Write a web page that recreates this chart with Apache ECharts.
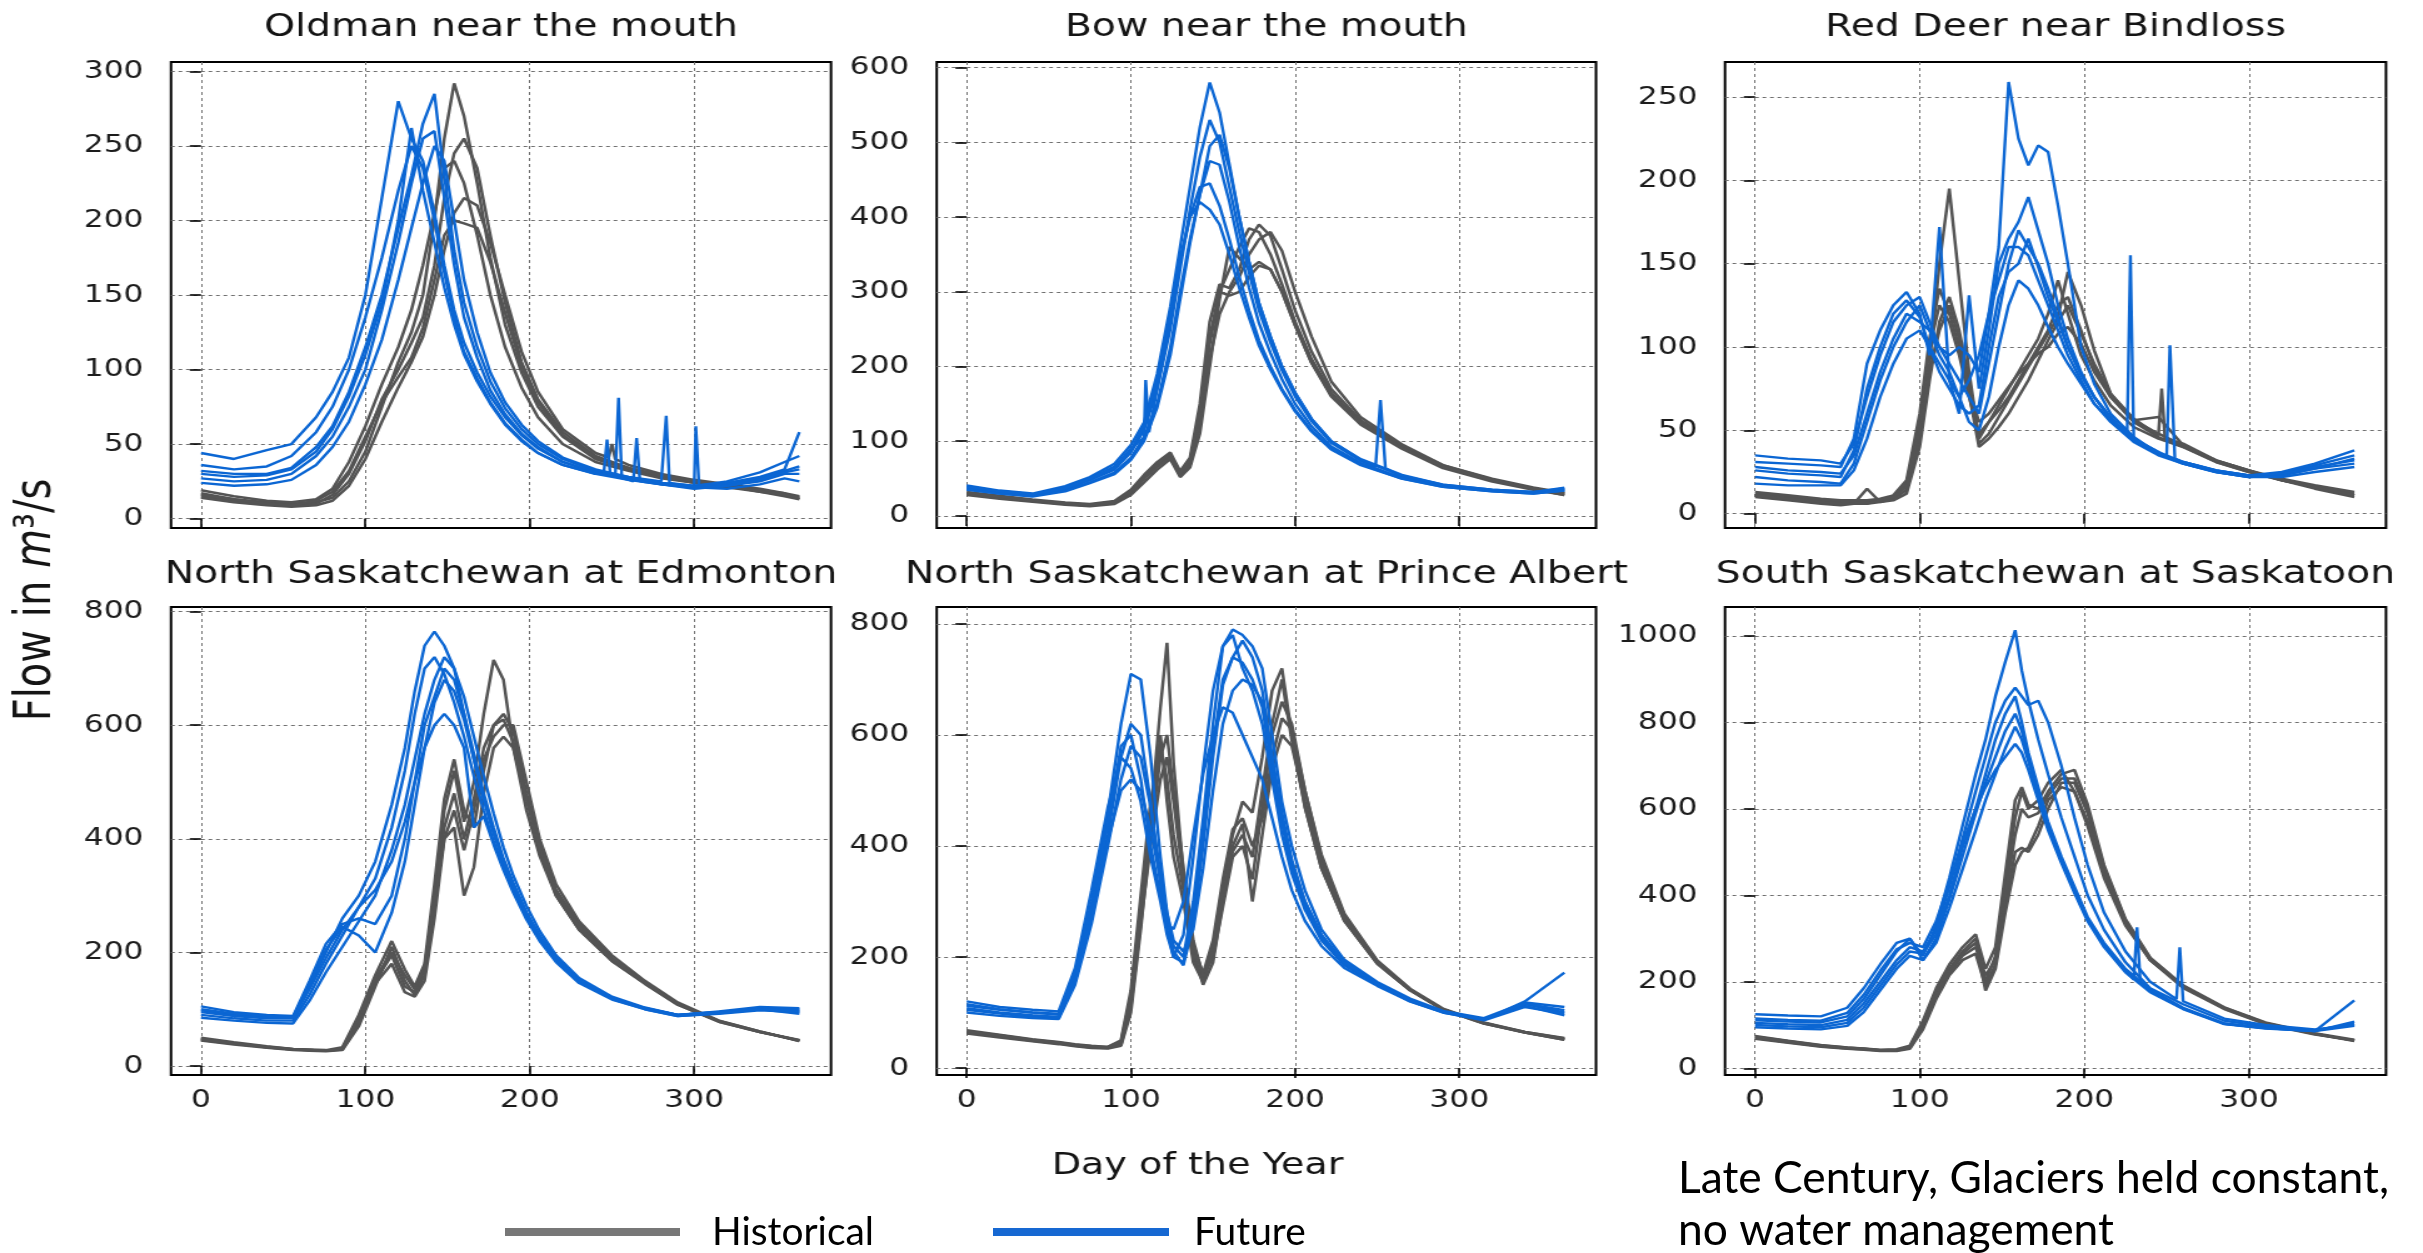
<!DOCTYPE html>
<html>
<head>
<meta charset="utf-8">
<script src="https://cdn.jsdelivr.net/npm/echarts@6/dist/echarts.min.js"></script>
<style>
html,body{margin:0;padding:0;background:#fff;overflow:hidden;}
#wrap{position:absolute;left:0;top:0;width:2423px;height:1253px;background:#fff;}
#plots{position:absolute;left:0;top:0;width:1938px;height:1253px;transform-origin:0 0;transform:scaleX(1.2502580);}
#notes{position:absolute;left:0;top:0;width:2423px;height:1253px;}
</style>
</head>
<body>
<div id="wrap"><div id="plots"></div><div id="notes"></div></div>
<script>
// ---------------- DATA ----------------
const xTicks = [0, 100, 200, 300];
const panelTitles = ['Oldman near the mouth', 'Bow near the mouth', 'Red Deer near Bindloss',
  'North Saskatchewan at Edmonton', 'North Saskatchewan at Prince Albert', 'South Saskatchewan at Saskatoon'];
const legendNames = ['Historical', 'Future'];
const xAxisTitle = 'Day of the Year';
const noteLines = ['Late Century, Glaciers held constant,', 'no water management'];

// Oldman near the mouth
const oldmanTicks = [0, 50, 100, 150, 200, 250, 300];
const oldmanDays = [0,20,40,55,70,80,90,100,110,120,128,135,142,148,154,160,168,176,185,195,205,220,240,260,280,300,320,340,355,364];
const oldmanHist = [
  [17,13,11,10,11,14,25,45,75,105,125,150,200,255,292,270,225,175,130,98,75,55,40,33,28,24,21,18,15,13],
  [15,12,10,9,10,16,30,52,80,100,118,135,170,215,245,255,235,190,145,105,80,58,42,34,29,25,22,19,16,14],
  [19,15,12,11,13,20,38,62,90,115,140,170,205,235,240,225,190,150,115,88,68,50,38,32,27,24,21,19,17,15],
  [14,11,9,8,9,12,22,40,65,88,105,122,150,180,205,215,210,185,150,112,85,60,44,36,30,26,23,20,17,13],
  [16,13,10,9,12,18,32,55,78,95,108,128,160,190,200,198,195,172,138,102,78,56,41,34,29,25,22,18,16,14]
];
const oldmanFut = [
  [44,40,46,50,68,85,108,150,215,280,255,240,205,170,140,118,98,82,68,56,47,38,31,27,24,22,25,31,38,42],
  [32,30,30,34,48,62,85,115,150,195,230,265,285,230,180,145,115,92,74,60,50,40,32,28,25,22,24,28,33,58],
  [27,25,26,30,42,55,75,100,140,185,225,255,260,215,170,135,108,86,70,57,48,38,31,27,23,21,22,25,30,30],
  [36,33,35,42,58,75,100,135,175,220,250,235,200,165,135,112,94,78,64,53,44,36,30,26,23,21,23,27,32,35],
  [24,22,23,26,36,48,65,90,120,160,195,225,250,240,200,160,125,98,78,63,52,41,33,28,24,21,20,23,27,25],
  [30,28,29,33,45,60,82,110,145,200,262,220,185,155,130,110,92,77,63,52,44,36,30,26,23,20,22,26,31,33]
];
const oldmanHistSpikes = {3: [[248,41],[250,50],[252,40]]};
const oldmanFutSpikes = {0: [[252,28],[254,81],[256,27]], 1: [[281,25],[283,69],[285,24]],
  2: [[298,21],[301,62],[303,21]], 3: [[245,30],[247,53],[249,29]], 5: [[263,25],[265,54],[267,25]]};

// Bow near the mouth
const bowTicks = [0, 100, 200, 300, 400, 500, 600];
const bowDays = [0,20,40,60,75,90,100,108,116,124,130,136,142,148,154,160,166,172,178,185,192,200,210,222,240,265,290,320,345,364];
const bowHist = [
  [30,25,20,16,14,17,30,50,68,80,55,70,130,230,300,330,360,385,380,350,310,260,210,165,125,92,66,48,37,30],
  [28,23,19,15,13,16,28,45,62,76,52,65,110,200,290,360,345,330,340,330,300,255,205,160,122,90,64,46,35,28],
  [32,27,22,18,16,20,35,55,72,85,60,78,150,260,310,305,330,370,390,375,330,275,220,170,128,94,68,50,38,31],
  [29,24,20,16,14,18,32,52,70,82,58,68,120,210,270,300,320,350,370,380,355,300,240,180,132,96,68,49,36,28],
  [31,26,21,17,15,19,33,50,66,78,56,74,140,240,300,295,300,320,335,330,300,255,205,162,124,91,66,48,37,30]
];
const bowFut = [
  [41,34,30,40,52,70,95,125,190,280,360,440,520,580,540,470,400,340,285,240,200,165,130,100,75,54,42,35,32,38],
  [38,32,28,36,48,62,85,115,170,250,330,410,480,530,500,440,380,325,275,232,195,160,127,98,74,53,41,34,31,35],
  [36,30,27,34,45,58,78,105,150,225,300,370,430,475,470,420,360,305,258,218,183,150,120,93,71,51,40,34,31,36],
  [40,33,29,38,50,66,90,105,170,260,340,400,440,445,415,370,320,275,235,200,170,142,115,90,69,50,39,33,30,34],
  [35,30,26,33,44,56,75,100,145,215,290,365,430,495,510,465,400,340,285,240,200,165,130,100,76,55,42,35,32,37],
  [39,33,29,37,50,64,88,120,180,270,345,400,420,410,390,350,305,265,228,196,168,140,113,89,68,50,39,33,30,34]
];
const bowHistSpikes = {};
const bowFutSpikes = {1: [[249,66],[252,155],[255,64]], 3: [[109,182],[111,112]]};

// Red Deer near Bindloss
const redDeerTicks = [0, 50, 100, 150, 200, 250];
const redDeerDays = [0,20,40,52,60,68,76,84,92,100,106,112,118,124,130,136,142,148,154,160,166,172,178,184,190,198,206,216,230,245,260,280,300,320,340,364];
const redDeerHist = [
  [11,9,7,6,6,6,7,9,14,45,90,150,195,140,85,45,55,65,75,85,95,105,120,140,120,95,80,65,52,45,40,31,25,20,16,11],
  [12,10,8,7,7,7,8,10,18,55,100,125,115,95,70,48,55,62,70,80,90,100,110,125,130,110,88,70,55,46,40,31,25,20,16,12],
  [10,8,6,5,6,15,7,8,12,40,80,115,130,110,80,42,48,58,68,78,88,98,108,118,145,125,98,72,56,58,41,32,26,20,15,10],
  [13,11,9,8,8,8,9,11,20,60,105,135,120,100,75,55,60,68,76,84,90,96,100,108,112,102,85,70,56,48,41,32,26,21,17,13],
  [11,9,7,6,6,6,8,10,16,50,85,110,125,105,72,40,45,52,60,70,80,92,104,115,125,108,90,72,57,47,42,32,26,20,16,11]
];
const redDeerFut = [
  [28,26,25,24,35,60,85,105,120,115,110,100,95,100,95,85,120,160,259,225,209,221,217,185,150,100,78,60,46,36,31,26,23,23,27,33],
  [31,30,29,28,45,90,110,125,133,120,95,172,80,60,131,75,110,150,165,175,190,170,150,125,105,85,70,57,44,36,30,25,22,24,29,35],
  [22,20,19,18,30,55,80,100,115,125,110,95,85,70,80,95,120,140,160,160,155,140,125,110,95,80,66,55,43,35,30,25,22,23,27,30],
  [35,33,32,30,42,70,95,115,125,130,115,100,90,80,70,60,90,120,150,170,160,150,135,118,100,84,70,58,45,37,31,26,23,25,30,38],
  [18,17,17,17,26,45,70,90,105,110,100,90,80,70,55,50,70,100,125,140,135,125,112,100,90,78,66,56,44,36,30,25,22,22,25,28],
  [26,24,23,22,38,75,100,120,128,118,100,85,75,65,60,65,100,130,145,150,165,148,130,115,100,83,70,57,45,37,31,26,23,24,28,32]
];
const redDeerHistSpikes = {4: [[247,75],[249,45]]};
const redDeerFutSpikes = {3: [[226,48],[228,155]], 5: [[250,34],[252,101],[255,33]]};

// North Saskatchewan at Edmonton
const edmontonTicks = [0, 200, 400, 600, 800];
const edmontonDays = [0,20,40,56,66,76,86,96,106,116,124,130,136,142,148,154,160,166,172,178,184,190,198,206,216,230,250,270,290,315,340,364];
const edmontonHist = [
  [48,40,33,29,28,27,30,80,150,195,140,130,170,300,450,520,430,500,620,715,680,560,450,370,300,240,185,145,108,78,60,45],
  [45,38,32,28,27,26,28,70,140,210,150,125,160,280,420,480,400,470,560,600,620,590,480,390,310,250,190,148,110,80,61,44],
  [50,42,35,30,29,28,33,90,160,220,170,140,180,320,470,540,450,420,520,600,610,570,470,380,300,240,185,145,108,78,60,46],
  [46,39,33,29,28,27,29,75,145,180,130,122,150,260,400,450,380,450,540,580,600,600,500,400,320,255,195,150,112,80,61,44],
  [47,40,34,30,28,27,31,85,155,200,160,135,175,290,400,420,300,350,480,560,580,560,470,385,305,245,188,146,109,79,60,45]
];
const edmontonFut = [
  [98,90,86,86,140,200,260,300,360,460,560,660,740,765,740,700,620,540,470,410,360,320,270,230,190,150,120,102,90,95,102,100],
  [90,84,80,80,125,180,230,280,330,420,520,620,700,720,690,640,580,510,450,395,350,310,262,224,186,148,118,100,88,92,98,95],
  [105,95,90,88,150,215,250,260,250,300,400,500,600,650,700,680,620,550,480,420,365,322,270,228,188,150,120,102,90,96,104,102],
  [85,80,76,75,115,165,210,255,300,380,460,540,620,680,720,700,650,580,510,445,385,335,282,238,195,155,122,103,90,94,100,92],
  [100,92,88,86,145,205,245,230,200,270,360,460,560,640,680,660,610,540,470,410,360,318,268,228,188,150,120,102,90,95,102,98],
  [95,88,84,84,135,190,240,280,310,360,430,500,560,600,620,600,560,420,440,390,345,305,258,220,183,146,117,100,88,93,100,96]
];
const edmontonHistSpikes = {};
const edmontonFutSpikes = {};

// North Saskatchewan at Prince Albert
const princeAlbertTicks = [0, 200, 400, 600, 800];
const princeAlbertDays = [0,20,40,56,66,76,86,94,100,106,112,118,122,126,132,138,144,150,156,162,168,174,180,186,192,198,206,216,230,250,270,290,315,340,364];
const princeAlbertHist = [
  [65,58,50,45,41,38,37,45,120,280,450,650,766,550,350,200,160,220,330,420,480,460,560,680,720,600,470,360,265,188,140,105,80,64,52],
  [62,55,48,43,39,36,35,40,100,250,420,560,600,500,360,230,165,200,290,380,400,340,470,600,660,620,500,380,275,192,142,106,81,65,53],
  [68,60,52,47,43,40,38,50,140,310,480,580,520,420,320,210,150,190,300,390,420,380,500,620,700,590,470,360,265,188,140,105,80,64,51],
  [64,57,49,44,40,37,36,42,110,260,400,520,560,480,340,220,170,230,340,430,450,400,450,560,630,610,500,385,278,194,143,107,82,65,54],
  [66,59,51,46,42,39,38,48,130,290,440,600,480,380,300,190,155,210,310,400,440,300,420,540,600,580,480,370,270,190,141,106,81,64,51]
];
const princeAlbertFut = [
  [112,105,100,98,170,300,460,620,710,700,560,380,280,220,200,300,450,620,760,790,780,760,720,600,480,400,320,250,195,155,125,103,90,118,110],
  [105,98,92,90,160,280,420,560,620,600,480,330,250,200,190,280,420,580,700,740,770,740,680,560,450,370,300,240,190,152,122,101,88,115,100],
  [120,110,105,102,180,320,470,560,540,480,380,300,240,200,240,380,540,680,760,780,720,680,620,520,420,350,285,230,185,150,120,100,87,120,172],
  [100,94,90,88,150,260,400,520,580,560,470,350,270,210,185,260,400,560,690,740,730,700,650,540,440,360,292,235,188,151,121,101,87,112,95],
  [115,106,100,96,165,290,440,580,600,520,400,310,260,250,300,420,530,600,650,640,600,560,520,450,380,320,265,220,180,148,120,100,86,110,98],
  [108,100,95,92,155,270,410,500,520,500,430,340,280,230,210,250,360,500,620,680,700,690,660,560,460,375,300,240,190,152,122,101,88,116,104]
];
const princeAlbertHistSpikes = {};
const princeAlbertFutSpikes = {};

// South Saskatchewan at Saskatoon
const saskatoonTicks = [0, 200, 400, 600, 800, 1000];
const saskatoonDays = [0,20,40,56,66,76,86,94,102,110,118,126,134,140,146,152,158,162,166,172,178,186,194,202,212,225,240,260,285,310,340,364];
const saskatoonHist = [
  [72,62,52,47,45,42,42,48,100,175,230,270,300,200,260,420,580,640,600,620,660,690,640,560,440,330,250,190,140,105,80,64],
  [68,59,50,45,43,40,40,45,90,160,215,250,265,190,240,380,500,510,500,540,600,660,660,590,460,340,252,188,138,103,79,63],
  [75,64,54,48,46,43,44,52,110,185,240,280,310,230,280,450,620,650,610,600,640,680,690,610,470,345,256,192,141,106,81,66],
  [70,60,51,46,44,41,41,47,95,165,220,260,280,215,250,400,540,600,580,590,630,670,670,600,465,342,254,190,139,104,80,64],
  [73,63,53,48,45,42,43,50,105,180,225,265,290,180,230,360,470,500,510,560,620,650,640,570,450,335,250,186,137,102,78,65]
];
const saskatoonFut = [
  [111,108,106,120,160,215,270,300,260,330,440,560,680,760,860,940,1013,920,850,760,680,580,490,400,320,245,185,148,110,97,88,103],
  [105,102,100,112,150,200,250,280,270,320,420,530,640,720,800,850,880,860,840,850,800,700,580,470,360,270,200,155,115,100,90,100],
  [125,122,120,140,185,240,290,300,250,300,390,490,590,660,720,780,820,780,720,640,560,480,410,345,285,225,178,138,103,93,86,157],
  [95,92,90,98,130,180,230,260,250,290,370,460,550,620,680,740,790,760,710,630,560,480,410,345,285,225,178,138,103,93,86,98],
  [100,97,95,105,140,190,240,270,265,310,400,510,600,680,760,820,860,800,730,650,570,490,420,350,290,230,182,140,104,94,87,101],
  [115,112,110,128,170,225,275,290,280,340,430,520,600,650,690,720,750,730,690,620,550,475,405,340,280,222,176,137,102,92,86,108]
];
const saskatoonHistSpikes = {};
const saskatoonFutSpikes = {1: [[256,160],[258,280]], 3: [[230,205],[232,326],[234,200]]};

// ---------------- CHART ----------------
const SX = 2423 / 1938;
const u = x => x / SX;
const GRAY = '#545454', BLUE = '#0b66d3';
const DV = '"DejaVu Sans", sans-serif';

const panels = [
  {days: oldmanDays, hist: oldmanHist, fut: oldmanFut, hs: oldmanHistSpikes, fs: oldmanFutSpikes, ticks: oldmanTicks, step: 50, yr: [-6.3, 306.3]},
  {days: bowDays, hist: bowHist, fut: bowFut, hs: bowHistSpikes, fs: bowFutSpikes, ticks: bowTicks, step: 100, yr: [-16.1, 607.5]},
  {days: redDeerDays, hist: redDeerHist, fut: redDeerFut, hs: redDeerHistSpikes, fs: redDeerFutSpikes, ticks: redDeerTicks, step: 50, yr: [-8.6, 271]},
  {days: edmontonDays, hist: edmontonHist, fut: edmontonFut, hs: edmontonHistSpikes, fs: edmontonFutSpikes, ticks: edmontonTicks, step: 200, yr: [-15.8, 808.2]},
  {days: princeAlbertDays, hist: princeAlbertHist, fut: princeAlbertFut, hs: princeAlbertHistSpikes, fs: princeAlbertFutSpikes, ticks: princeAlbertTicks, step: 200, yr: [-12.6, 830.6]},
  {days: saskatoonDays, hist: saskatoonHist, fut: saskatoonFut, hs: saskatoonHistSpikes, fs: saskatoonFutSpikes, ticks: saskatoonTicks, step: 200, yr: [-15.5, 1066.6]}
];
// plot rectangles in reference pixels: left, top, width, height
const rects = [
  [171, 62, 660, 466], [936.7, 62, 659.3, 466], [1725, 62, 661, 466],
  [171, 607, 660, 468], [936.7, 607, 659.3, 468], [1725, 607, 661, 468]
];

function member(days, vals, extra) {
  const d = days.map((x, i) => [x, vals[i]]);
  if (extra) extra.forEach(e => d.push(e));
  d.sort((a, b) => a[0] - b[0]);
  return d;
}
const plain = v => String(v);

const grids = [], xAxes = [], yAxes = [], series = [], graphics = [];
panels.forEach((p, i) => {
  const r = rects[i];
  grids.push({left: u(r[0]), top: r[1], width: u(r[2]), height: r[3], show: true,
    borderColor: '#000', borderWidth: 2, backgroundColor: 'rgba(0,0,0,0)',
    containLabel: false, outerBoundsMode: 'none'});
  xAxes.push({type: 'value', gridIndex: i, min: -18.25, max: 383.25, minInterval: 100, maxInterval: 100,
    axisLine: {show: false},
    axisTick: {show: true, inside: false, length: 10, customValues: xTicks, lineStyle: {color: '#000', width: 1.6}},
    axisLabel: {show: i >= 3, customValues: xTicks, formatter: plain, fontSize: 25, color: '#1c1c1c', margin: 13, fontFamily: DV},
    splitLine: {show: true, lineStyle: {color: '#707070', width: 1, type: [3, 3]}}});
  yAxes.push({type: 'value', gridIndex: i, min: p.yr[0], max: p.yr[1], minInterval: p.step, maxInterval: p.step,
    axisLine: {show: false},
    axisTick: {show: true, inside: false, length: 9, customValues: p.ticks, lineStyle: {color: '#000', width: 1.6}},
    axisLabel: {show: true, customValues: p.ticks, formatter: plain, fontSize: 25, color: '#1c1c1c', margin: 22, fontFamily: DV},
    splitLine: {show: true, lineStyle: {color: '#707070', width: 1, type: [3, 3]}}});
  p.hist.forEach((vals, k) => series.push({type: 'line', name: legendNames[0], xAxisIndex: i, yAxisIndex: i,
    data: member(p.days, vals, p.hs[k]), showSymbol: false, symbol: 'none', silent: true, z: 2,
    lineStyle: {color: GRAY, width: 2.5}, itemStyle: {color: GRAY}}));
  p.fut.forEach((vals, k) => series.push({type: 'line', name: legendNames[1], xAxisIndex: i, yAxisIndex: i,
    data: member(p.days, vals, p.fs[k]), showSymbol: false, symbol: 'none', silent: true, z: 3,
    lineStyle: {color: BLUE, width: 2.4}, itemStyle: {color: BLUE}}));
  graphics.push({type: 'text', x: u(r[0] + r[2] / 2), y: i < 3 ? 27.5 : 574.5, silent: true,
    style: {text: panelTitles[i], font: '31.5px ' + DV, fill: '#141414', textAlign: 'center', textVerticalAlign: 'middle'}});
});
graphics.push({type: 'text', x: u(1197.5), y: 1166, silent: true,
  style: {text: xAxisTitle, font: '30.5px ' + DV, fill: '#141414', textAlign: 'center', textVerticalAlign: 'middle'}});
graphics.push({type: 'text', x: u(36.5), y: 600, rotation: Math.PI / 2, silent: true,
  style: {text: '{n|Flow in }{i|m}{n|³/s}', textAlign: 'center', textVerticalAlign: 'middle',
    rich: {n: {font: '40px ' + DV, fill: '#141414'}, i: {font: 'italic 40px ' + DV, fill: '#141414'}}}});

const chart = echarts.init(document.getElementById('plots'), null, {renderer: 'canvas'});
chart.setOption({
  animation: false,
  backgroundColor: 'rgba(0,0,0,0)',
  textStyle: {fontFamily: DV},
  grid: grids, xAxis: xAxes, yAxis: yAxes, series: series, graphic: graphics
});

// ---------- unstretched legend + note (slide text) ----------
const SLIDE = 'Lato, "Open Sans", sans-serif';
function fitSize(text, target, base) {
  const c = document.createElement('canvas').getContext('2d');
  c.font = base + 'px ' + SLIDE;
  return base * target / c.measureText(text).width;
}
const legSize = fitSize(legendNames[0], 162, 40);
const noteSize = fitSize(noteLines[0], 711, 46);
const notes = echarts.init(document.getElementById('notes'), null, {renderer: 'canvas'});
notes.setOption({
  animation: false,
  backgroundColor: 'rgba(0,0,0,0)',
  graphic: [
    {type: 'line', shape: {x1: 505, y1: 1232, x2: 680, y2: 1232}, style: {stroke: '#777777', lineWidth: 8}},
    {type: 'text', x: 712, y: 1232, style: {text: legendNames[0], font: legSize.toFixed(2) + 'px ' + SLIDE, fill: '#000', textAlign: 'left', textVerticalAlign: 'middle'}},
    {type: 'line', shape: {x1: 993, y1: 1232, x2: 1169, y2: 1232}, style: {stroke: '#1668d2', lineWidth: 8}},
    {type: 'text', x: 1194, y: 1232, style: {text: legendNames[1], font: legSize.toFixed(2) + 'px ' + SLIDE, fill: '#000', textAlign: 'left', textVerticalAlign: 'middle'}},
    {type: 'text', x: 1678, y: 1179, style: {text: noteLines[0], font: noteSize.toFixed(2) + 'px ' + SLIDE, fill: '#000', textAlign: 'left', textVerticalAlign: 'middle'}},
    {type: 'text', x: 1678, y: 1231, style: {text: noteLines[1], font: noteSize.toFixed(2) + 'px ' + SLIDE, fill: '#000', textAlign: 'left', textVerticalAlign: 'middle'}}
  ]
});
</script>
</body>
</html>
